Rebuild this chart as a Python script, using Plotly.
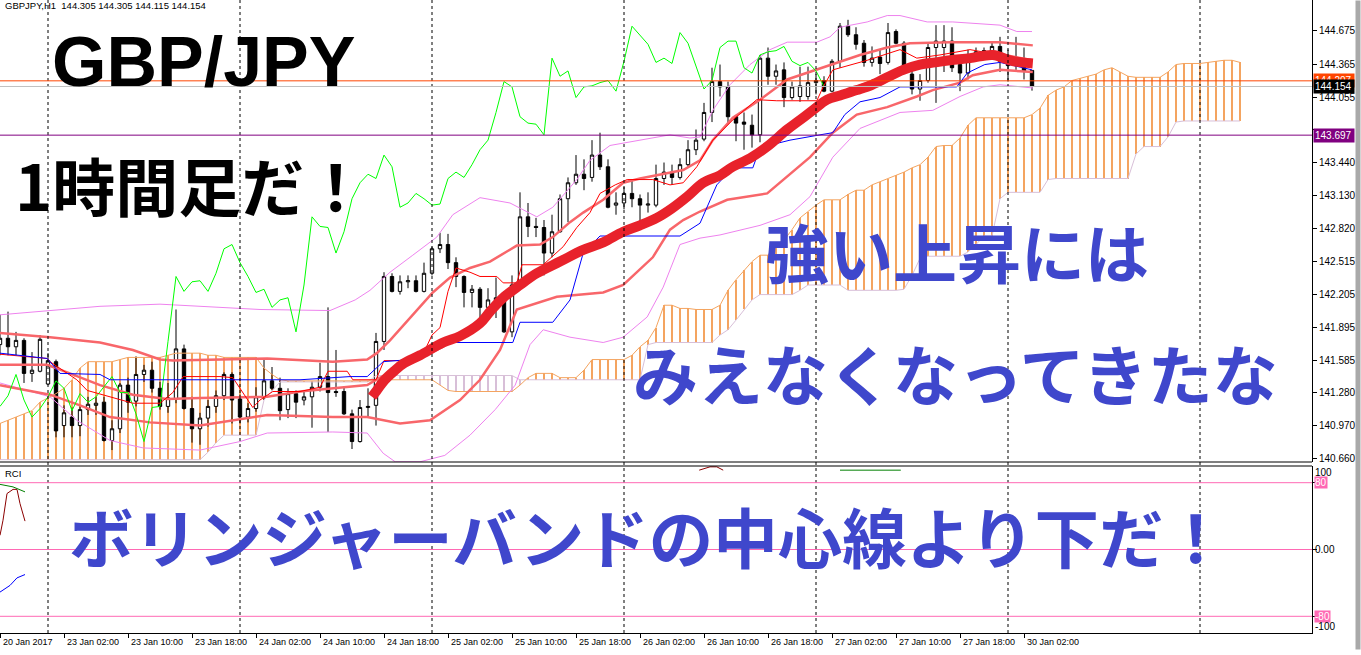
import plotly.graph_objects as go

# ---------------- data ----------------
tick_labels = ["20 Jan 2017", "23 Jan 02:00", "23 Jan 10:00", "23 Jan 18:00", "24 Jan 02:00",
               "24 Jan 10:00", "24 Jan 18:00", "25 Jan 02:00", "25 Jan 10:00", "25 Jan 18:00",
               "26 Jan 02:00", "26 Jan 10:00", "26 Jan 18:00", "27 Jan 02:00", "27 Jan 10:00",
               "27 Jan 18:00", "30 Jan 02:00"]
tick_bars = [0, 8, 16, 24, 32, 40, 48, 56, 64, 72, 80, 88, 96, 104, 112, 120, 128]
day_sep_bars = [6, 30, 54, 78, 102, 126, 150]

price_ticks = [144.675, 144.365, 144.055, 143.750, 143.440, 143.130, 142.820,
               142.515, 142.205, 141.895, 141.585, 141.280, 140.970, 140.660]
price_tick_text = ["144.675", "144.365", "144.055", "", "143.440", "143.130", "142.820",
                   "142.515", "142.205", "141.895", "141.585", "141.280", "140.970", "140.660"]

opens = [141.73,141.79,141.71,141.77,141.46,141.48,141.36,141.57,140.97,141.05,
         140.97,141.12,141.16,141.19,140.83,140.94,141.35,141.20,141.45,141.49,
         141.32,141.15,141.22,141.69,141.13,140.94,141.04,141.15,141.25,141.45,
         141.22,141.05,141.13,141.24,141.39,141.32,141.12,141.27,141.21,141.24,
         141.33,141.43,141.29,141.29,141.08,140.82,141.14,141.16,141.76,142.37,
         142.23,142.32,142.33,142.23,142.40,142.63,142.67,142.50,142.37,142.22,
         142.25,142.08,142.15,142.18,141.85,142.29,142.93,142.84,142.83,142.59,
         142.79,143.10,143.25,143.33,143.30,143.51,143.40,143.04,143.06,143.15,
         143.10,143.04,143.04,143.29,143.35,143.30,143.42,143.56,143.66,143.91,
         144.20,144.15,143.87,143.82,143.79,143.70,144.42,144.25,144.31,144.05,
         144.06,144.06,144.19,144.21,144.11,144.39,144.72,144.64,144.56,144.38,
         144.43,144.38,144.67,144.56,144.27,144.13,144.21,144.52,144.52,144.58,
         144.36,144.28,144.46,144.48,144.48,144.53,144.39,144.35,144.35,144.305]
highs = [142.01,142.04,141.85,141.79,141.66,141.82,141.65,141.59,141.16,141.14,
         141.15,141.24,141.24,141.24,141.02,141.37,141.42,141.62,141.54,141.57,
         141.38,141.37,142.06,141.73,141.24,141.09,141.21,141.30,141.47,141.47,
         141.26,141.18,141.33,141.60,141.52,141.42,141.32,141.30,141.29,141.38,
         141.56,142.08,141.68,141.33,141.12,141.21,141.32,141.84,142.41,142.40,
         142.38,142.38,142.38,142.50,142.65,142.78,142.77,142.55,142.38,142.29,
         142.27,142.26,142.36,142.23,142.38,143.16,143.06,142.92,142.90,142.95,
         143.14,143.30,143.51,143.47,143.65,143.72,143.47,143.16,143.21,143.28,
         143.14,143.16,143.42,143.44,143.42,143.48,143.65,143.75,144.00,144.33,
         144.36,144.20,143.88,143.91,143.89,144.45,144.52,144.36,144.38,144.20,
         144.34,144.34,144.27,144.25,144.41,144.75,144.78,144.71,144.59,144.53,
         144.50,144.75,144.69,144.58,144.33,144.27,144.57,144.73,144.73,144.71,
         144.43,144.50,144.52,144.52,144.58,144.62,144.50,144.62,144.52,144.305]
lows = [141.63,141.63,141.63,141.37,141.38,141.47,141.35,140.86,140.86,140.86,
        140.87,141.07,141.07,140.82,140.74,140.90,141.09,141.15,141.38,141.28,
        141.12,141.09,141.18,141.12,140.81,140.79,140.96,141.09,141.21,140.99,
        140.99,141.00,141.10,141.21,141.30,141.02,141.04,141.04,141.16,140.95,
        141.29,140.91,141.24,141.07,140.75,140.81,141.05,140.97,141.68,142.22,
        142.20,142.26,142.22,142.22,142.38,142.59,142.44,142.27,142.08,142.08,
        141.98,141.98,141.98,141.84,141.80,142.26,142.74,142.74,142.38,142.55,
        142.78,142.88,143.23,143.18,143.26,143.37,143.01,142.95,143.00,143.02,
        142.88,142.97,143.02,143.23,143.23,143.28,143.39,143.51,143.64,143.82,
        144.06,143.80,143.64,143.56,143.58,143.63,144.17,144.17,143.96,144.03,
        144.01,144.03,144.08,144.10,144.10,144.33,144.62,144.50,144.34,144.34,
        144.27,144.36,144.55,144.27,144.08,144.02,144.19,144.00,144.29,144.29,
        144.11,144.22,144.43,144.45,144.41,144.29,144.20,144.31,144.22,144.115]
closes = [141.79,141.71,141.77,141.46,141.49,141.78,141.58,140.92,141.09,140.97,
          141.12,141.17,141.18,140.83,140.94,141.35,141.19,141.45,141.49,141.32,
          141.15,141.23,141.69,141.13,140.94,141.04,141.15,141.25,141.45,141.21,
          141.05,141.13,141.24,141.39,141.32,141.11,141.27,141.19,141.24,141.33,
          141.43,141.28,141.28,141.08,140.82,141.14,141.15,141.76,142.37,142.23,
          142.32,142.33,142.23,142.40,142.63,142.67,142.50,142.37,142.22,142.25,
          142.08,142.15,142.17,141.85,142.29,142.93,142.84,142.83,142.59,142.79,
          143.10,143.25,143.33,143.29,143.51,143.40,143.02,143.06,143.15,143.10,
          143.04,143.05,143.29,143.35,143.30,143.42,143.56,143.65,143.91,144.20,
          144.15,143.87,143.81,143.80,143.70,144.42,144.25,144.30,144.05,144.15,
          144.16,144.19,144.21,144.11,144.39,144.72,144.64,144.55,144.38,144.42,
          144.37,144.66,144.56,144.34,144.13,144.21,144.52,144.58,144.58,144.33,
          144.28,144.45,144.48,144.49,144.53,144.39,144.35,144.38,144.30,144.154]

span_a = [140.99,141.02,141.05,141.08,141.11,141.19,141.23,141.27,141.32,141.40,
          141.51,141.57,141.57,141.57,141.57,141.59,141.61,141.61,141.61,141.61,
          141.61,141.63,141.65,141.65,141.65,141.65,141.63,141.63,141.61,141.61,
          141.61,141.61,141.61,141.51,141.45,141.40,141.39,141.39,141.39,141.39,
          141.39,141.39,141.39,141.39,141.39,141.39,141.39,141.39,141.40,141.40,
          141.40,141.40,141.40,141.40,141.40,141.35,141.30,141.29,141.29,141.29,
          141.29,141.29,141.29,141.29,141.29,141.35,141.42,141.46,141.46,141.46,
          141.42,141.42,141.42,141.49,141.59,141.59,141.59,141.59,141.59,141.63,
          141.71,141.77,141.89,142.10,142.10,142.07,142.07,142.06,142.06,142.06,
          142.10,142.24,142.34,142.43,142.51,142.57,142.57,142.67,142.71,142.81,
          142.92,142.98,143.04,143.09,143.09,143.09,143.14,143.18,143.18,143.23,
          143.26,143.29,143.32,143.35,143.39,143.42,143.49,143.59,143.60,143.60,
          143.67,143.79,143.86,143.86,143.86,143.86,143.86,143.86,143.86,143.89,
          143.95,144.07,144.12,144.15,144.21,144.23,144.25,144.27,144.31,144.33,
          144.29,144.25,144.24,144.24,144.24,144.24,144.29,144.36,144.37,144.37,
          144.37,144.38,144.39,144.40,144.40,144.38]
span_b = [140.65,140.65,140.65,140.65,140.65,140.65,140.65,140.65,140.65,140.65,
          140.65,140.65,140.65,140.65,140.65,140.65,140.65,140.65,140.65,140.65,
          140.65,140.65,140.65,140.65,140.65,140.65,140.72,140.81,140.88,140.88,
          140.88,140.88,140.88,141.21,141.30,141.38,141.38,141.38,141.38,141.38,
          141.38,141.38,141.38,141.38,141.38,141.38,141.38,141.44,141.44,141.44,
          141.44,141.44,141.44,141.44,141.44,141.44,141.44,141.44,141.44,141.44,
          141.44,141.44,141.44,141.44,141.44,141.40,141.40,141.40,141.40,141.40,
          141.40,141.40,141.40,141.40,141.40,141.40,141.40,141.40,141.40,141.40,
          141.40,141.73,141.75,141.75,141.75,141.75,141.75,141.75,141.75,141.75,
          141.82,141.87,141.96,142.06,142.15,142.20,142.20,142.20,142.20,142.20,
          142.24,142.29,142.29,142.29,142.29,142.29,142.24,142.24,142.24,142.24,
          142.24,142.24,142.24,142.25,142.38,142.54,142.56,142.56,142.56,142.56,
          142.56,142.60,142.67,142.75,142.75,143.10,143.16,143.16,143.16,143.16,
          143.16,143.28,143.29,143.29,143.29,143.29,143.29,143.29,143.29,143.29,
          143.29,143.29,143.52,143.59,143.59,143.59,143.68,143.82,143.83,143.83,
          143.83,143.83,143.83,143.83,143.83,143.83]

# Bollinger bands (x in bar numbers)
uv_x = [0,6.25,12.5,20,25,32.5,41.25,44.4,46.25,48.75,51.6,54.6,56.6,60,63.75,67.1,69.1,72.1,73.75,76.25,
        80,83.75,86.25,87.5,89.1,91.25,93.75,96.25,98.4,102.1,103.75,105,108.4,110.9,112.5,115.9,119.1,125,127.1,129]
uv_y = [142.01,142.05,142.09,142.11,142.09,142.06,142.05,142.15,142.24,142.41,142.57,142.74,142.95,143.11,143.06,
        142.93,143.02,143.28,143.46,143.60,143.65,143.70,143.67,143.68,143.93,144.17,144.36,144.50,144.57,144.57,
        144.62,144.71,144.76,144.82,144.82,144.76,144.76,144.73,144.67,144.67]
lv_x = [0,6.25,9.6,13.75,17.9,25,30,33.4,41.6,45.9,47.9,49.4,52.5,55.6,58.75,61.9,64.4,66.25,67.9,71.25,
        75.4,77.9,80.9,82.9,85,87.5,90,95,98.75,101.25,104.1,107.5,112.5,116.6,120,122.9,125,129.1]
lv_y = [141.37,141.24,141.02,140.83,140.76,140.74,140.82,140.90,140.91,140.90,140.71,140.63,140.63,140.69,140.88,
        141.12,141.35,141.73,141.87,141.80,141.75,141.80,141.99,142.27,142.67,142.73,142.76,142.85,142.95,143.12,
        143.49,143.76,143.91,143.93,144.06,144.15,144.17,144.14]
us_x = [0,6.25,12.5,16.6,20,21.6,33.4,41.6,45.9,47.1,48.75,51.25,54.1,56.25,58.75,61.25,64.6,67.5,69.1,71.25,
        72.9,75.4,77.9,80,82.1,85.4,87.5,89.1,91.6,95,98.4,101.25,104.1,107.5,110.9,113.75,118.75,125,129.1]
us_y = [141.84,141.80,141.75,141.68,141.59,141.58,141.60,141.57,141.59,141.65,141.77,141.98,142.22,142.36,142.45,
        142.51,142.66,142.67,142.74,142.88,142.97,143.09,143.25,143.29,143.32,143.37,143.46,143.65,143.86,144.03,
        144.22,144.29,144.36,144.45,144.52,144.56,144.57,144.57,144.54]
cs_x = [0,5.9,8.4,12.5,16.6,20.9,25,33.4,37.5,41.6,45.9,47.5,50,52.5,55.4,60,62.9,67.1,72.9,77.9,
        82.1,85.9,90,95.9,101.6,105,110.9,115,118.75,124.1,129.1]
cs_y = [141.54,141.54,141.47,141.35,141.26,141.22,141.23,141.24,141.29,141.32,141.35,141.42,141.51,141.60,141.71,
        141.96,142.18,142.41,142.64,142.81,142.95,143.14,143.34,143.60,143.95,144.09,144.26,144.37,144.42,144.47,144.40]
ls_x = [0,6.25,10,13.75,18.75,25,33.4,41.6,45.9,50,53.75,57.5,60,62.5,64.6,67.5,69.6,75.4,77.9,81.6,
        83.75,85.4,87.5,90.9,95.9,101.25,104.1,107.1,110.9,114.6,116.6,120,121.6,125,129.1]
ls_y = [141.35,141.26,141.16,141.05,141.00,140.97,141.07,141.05,141.05,140.99,141.02,141.21,141.40,141.68,142.06,
        142.13,142.18,142.22,142.29,142.55,142.81,142.90,142.98,143.09,143.15,143.49,143.72,143.89,143.96,144.06,
        144.12,144.19,144.26,144.31,144.29]

# Ichimoku tenkan / kijun
tk_x = [0,5.9,6.25,9.6,10.9,13.75,16.6,20,21.6,22.9,27.5,29.1,31.6,32.5,34.1,37.5,40,41,43.4,44.1,
        47,48,52,53,54,55,56,57,58.75,60,62.1,62.9,64.6,65.25,67.9,70.4,72.1,73.75,75,76.9,
        78.4,81.6,83.75,85.4,87.1,89.1,91.6,94.6,97.1,102.1,102.9,104.1,107.1,108.4,112.5,114.6,117.5,121.25,125,129]
tk_y = [141.64,141.60,141.57,141.40,141.30,141.24,141.18,141.18,141.28,141.43,141.43,141.42,141.14,141.21,141.29,
        141.29,141.33,141.48,141.48,141.40,141.40,141.58,141.58,141.66,141.82,141.89,142.23,142.45,142.41,142.37,
        142.37,142.31,142.31,142.48,142.48,142.65,142.83,142.97,143.15,143.23,143.28,143.28,143.23,143.25,143.40,
        143.65,143.84,144.03,144.02,144.02,144.15,144.31,144.37,144.40,144.50,144.42,144.45,144.50,144.45,144.40]
kj_x = [0,5.9,7.5,12.5,13.75,25,37.5,43.75,45.9,47.9,51.25,54.6,64.1,65,69.1,71.25,72.9,75,85,87.5,
        89.6,91.6,94.1,95,98.75,102.5,104.1,105.6,107.5,110,112.5,119.6,120.9,123.1,125,129]
kj_y = [141.65,141.60,141.46,141.45,141.40,141.40,141.40,141.43,141.43,141.57,141.59,141.75,141.75,141.94,141.94,
        142.15,142.59,142.75,142.75,142.87,143.23,143.39,143.39,143.58,143.65,143.70,143.72,143.89,144.01,144.05,
        144.15,144.15,144.28,144.36,144.38,144.31]
chikou_shift = 26

# hand drawn thick red line (over the middle band)
hd_x = [46.5,47.1,48.1,49.4,50.4,52.5,55.4,57.5,60,61.25,62.9,65,67.1,70,72.9,75.4,77.9,80,82.1,84,
        85.9,87.9,90,91.6,93.75,95.9,98.4,100,101.6,103.4,105,107.1,109,110.9,112.9,115,116.9,118.75,121.25,124.1,
        126.25,127.75,129.1]
hd_y = [141.24,141.30,141.40,141.49,141.55,141.63,141.75,141.81,141.93,142.04,142.17,142.29,142.40,142.51,142.62,
        142.69,142.79,142.85,142.92,143.01,143.12,143.25,143.32,143.40,143.48,143.59,143.75,143.84,143.93,144.03,
        144.07,144.12,144.17,144.24,144.31,144.36,144.38,144.40,144.42,144.45,144.40,144.38,144.37]

# RCI sub-window fragments
rci_a_x = [0, 0.375, 0.875, 1.625, 2.125, 2.5, 3.125]
rci_a_y = [17, 35, 67, 72, 72, 55, 34]
rci_a2_x = [87.4, 88.75, 89.6, 90.4]
rci_a2_y = [95, 99, 99, 95]
rci_b_x = [0, 1.625, 3.125]
rci_b_y = [78, 75, 69]
rci_b2_x = [105, 112.6]
rci_b2_y = [95, 95]
rci_c_x = [0, 1.25, 2.125, 2.75, 3.125]
rci_c_y = [-51, -43, -34, -31, -30]
rci_levels = [80, 0, -80]

hline_prices = [144.207, 144.154, 143.697]
hline_colors = ["#ff4500", "#c0c0c0", "#800080"]
hline_box_text = ["144.207", "144.154", "143.697"]
hline_box_bg = ["#ff4500", "#000000", "#800080"]

header = "GBPJPY,H1  144.305 144.305 144.115 144.154"

# ---------------- geometry ----------------
W, H = 1361, 655
ML, MR, MT, MB = 0, 49, 0, 22
PW = W - ML - MR
PH = H - MT - MB
MAIN_BOTTOM = 462
SUB_TOP = 466
Y_TOP, Y_BOT = 144.966, 140.628


def pxx(px):
    return px / PW


def pxy(py):
    return 1 - py / PH


fig = go.Figure()

# cloud hatch
cloud_x = list(range(len(span_a)))
fig.add_trace(go.Bar(
    x=cloud_x, base=span_b, y=[a - b for a, b in zip(span_a, span_b)], width=0.13,
    marker=dict(color=["#f4a460" if a >= b else "#d8bfd8" for a, b in zip(span_a, span_b)],
                line=dict(width=0)),
    hoverinfo="skip"))
fig.add_trace(go.Scatter(x=cloud_x, y=span_b, mode="lines", line=dict(color="#d8bfd8", width=1), hoverinfo="skip"))
fig.add_trace(go.Scatter(x=cloud_x, y=span_a, mode="lines", line=dict(color="#f4a460", width=1), hoverinfo="skip"))

# Bollinger
for xs, ys, col, w in [(uv_x, uv_y, "#ee82ee", 1), (lv_x, lv_y, "#ee82ee", 1),
                       (us_x, us_y, "#f8666a", 2.5), (ls_x, ls_y, "#f8666a", 2.5),
                       (cs_x, cs_y, "#f8666a", 2.5)]:
    fig.add_trace(go.Scatter(x=xs, y=ys, mode="lines", line=dict(color=col, width=w), hoverinfo="skip"))

# chikou
bars = list(range(len(opens)))
fig.add_trace(go.Scatter(x=[b - chikou_shift for b in bars[chikou_shift:]], y=closes[chikou_shift:],
                         mode="lines", line=dict(color="#00ff00", width=1), hoverinfo="skip"))
# tenkan / kijun
fig.add_trace(go.Scatter(x=tk_x, y=tk_y, mode="lines", line=dict(color="#ff0000", width=1), hoverinfo="skip"))
fig.add_trace(go.Scatter(x=kj_x, y=kj_y, mode="lines", line=dict(color="#0000ff", width=1), hoverinfo="skip"))

# candles
fig.add_trace(go.Candlestick(
    x=bars, open=opens, high=highs, low=lows, close=closes,
    increasing=dict(line=dict(color="black", width=1), fillcolor="white"),
    decreasing=dict(line=dict(color="black", width=1), fillcolor="black"),
    whiskerwidth=0, hoverinfo="skip"))

# hand-drawn line
fig.add_trace(go.Scatter(x=hd_x, y=hd_y, mode="lines", line=dict(color="#e8222b", width=10, shape="spline"),
                         hoverinfo="skip"))

# RCI
for xs, ys, col in [(rci_a_x, rci_a_y, "#8b0000"), (rci_a2_x, rci_a2_y, "#8b0000"),
                    (rci_b_x, rci_b_y, "#008000"), (rci_b2_x, rci_b2_y, "#008000"),
                    (rci_c_x, rci_c_y, "#0000ff")]:
    fig.add_trace(go.Scatter(x=xs, y=ys, mode="lines", line=dict(color=col, width=1), yaxis="y2",
                             hoverinfo="skip"))

shapes = []
for b in day_sep_bars:
    shapes.append(dict(type="line", xref="x", yref="paper", x0=b, x1=b, y0=0, y1=1,
                       line=dict(color="black", width=1, dash="3px,3px")))
for p, c in zip(hline_prices, hline_colors):
    shapes.append(dict(type="line", xref="paper", yref="y", x0=0, x1=1, y0=p, y1=p,
                       line=dict(color=c, width=1)))
for lv in rci_levels:
    shapes.append(dict(type="line", xref="paper", yref="y2", x0=0, x1=1, y0=lv, y1=lv,
                       line=dict(color="#ff69b4", width=1)))
for py in (MAIN_BOTTOM, SUB_TOP):
    shapes.append(dict(type="line", xref="paper", yref="paper", x0=0, x1=1, y0=pxy(py), y1=pxy(py),
                       line=dict(color="black", width=1)))

ann = []
# right-hand scroll strip of the terminal window (drawn as an empty boxed label)
ann.append(dict(text=" ", xref="paper", yref="paper", x=pxx(1355), y=pxy(0), xanchor="left",
                yanchor="top", showarrow=False, bgcolor="#a9a9a9", width=4, height=648, borderpad=0,
                font=dict(size=1)))
ann.append(dict(text=header, xref="paper", yref="paper", x=pxx(3), y=pxy(6), xanchor="left",
                yanchor="middle", showarrow=False,
                font=dict(family="Liberation Sans", size=9.5, color="black")))
ann.append(dict(text="RCI", xref="paper", yref="paper", x=pxx(3), y=pxy(473), xanchor="left",
                yanchor="middle", showarrow=False,
                font=dict(family="Liberation Sans", size=9.5, color="black")))

big = [("<b>GBP/JPY</b>", 50, 62, "Liberation Sans", 70, "black"),
       ("<b>1時間足だ！</b>", 13, 183, "Noto Sans CJK JP", 63, "black"),
       ("<b>強い上昇には</b>", 763, 250, "Noto Sans CJK JP", 64, "#3f47cc"),
       ("<b>みえなくなってきたな</b>", 631, 372, "Noto Sans CJK JP", 65, "#3f47cc"),
       ("<b>ボリンジャーバンドの中心線より下だ！</b>", 67, 535, "Noto Sans CJK JP", 64.5, "#3f47cc")]
for t, x, y, fam, sz, col in big:
    ann.append(dict(text=t, xref="paper", yref="paper", x=pxx(x), y=pxy(y), xanchor="left",
                    yanchor="middle", showarrow=False, font=dict(family=fam, size=sz, color=col)))

for b, t in zip(tick_bars, tick_labels):
    ann.append(dict(text=t, xref="x", yref="paper", x=b, y=pxy(642), xanchor="left", yanchor="middle",
                    xshift=1, showarrow=False, font=dict(family="Liberation Sans", size=9, color="black")))

for p, t, bg in zip(hline_prices, hline_box_text, hline_box_bg):
    ann.append(dict(text=t, xref="paper", yref="y", x=1, y=p, xanchor="left", yanchor="middle",
                    xshift=1, showarrow=False, bgcolor=bg, borderpad=1, width=38, align="left",
                    font=dict(family="Liberation Sans", size=10, color="white")))

for txt, val, bg, fc in [("100", 92, None, "black"), ("80", 80, "#ff69b4", "white"),
                         ("0.00", 0, None, "black"), ("-80", -80, "#ff69b4", "white"),
                         ("-100", -92, None, "black")]:
    d = dict(text=txt, xref="paper", yref="y2", x=1, y=val, xanchor="left", yanchor="middle",
             xshift=2, showarrow=False, borderpad=0,
             font=dict(family="Liberation Sans", size=10, color=fc))
    if bg:
        d["bgcolor"] = bg
    ann.append(d)

fig.update_layout(
    width=W, height=H, margin=dict(l=ML, r=MR, t=MT, b=MB),
    paper_bgcolor="white", plot_bgcolor="white", showlegend=False, hovermode=False,
    bargap=0, boxgap=0.4,
    xaxis=dict(domain=[0, 1], range=[0, 164], anchor="y2", showgrid=False, zeroline=False,
               showline=True, linecolor="black", linewidth=1, ticks="outside", ticklen=4,
               tickcolor="black", tickvals=tick_bars, showticklabels=False,
               rangeslider=dict(visible=False), fixedrange=True),
    yaxis=dict(domain=[pxy(MAIN_BOTTOM), 1], range=[Y_BOT, Y_TOP], side="right", showgrid=False,
               zeroline=False, showline=True, linecolor="black", linewidth=1, ticks="outside",
               ticklen=4, tickcolor="black", tickvals=price_ticks, ticktext=price_tick_text,
               tickfont=dict(family="Liberation Sans", size=10, color="black"), fixedrange=True),
    yaxis2=dict(domain=[0, pxy(SUB_TOP)], range=[-100, 100], side="right", anchor="x",
                showgrid=False, zeroline=False, showline=True, linecolor="black", linewidth=1,
                ticks="outside", ticklen=4, tickcolor="black", tickvals=rci_levels,
                showticklabels=False, fixedrange=True),
    shapes=shapes, annotations=ann,
)

fig.write_html("out.html", config={"displayModeBar": False, "staticPlot": True},
               post_script="document.body.style.margin='0px';document.body.style.overflow='hidden';")
